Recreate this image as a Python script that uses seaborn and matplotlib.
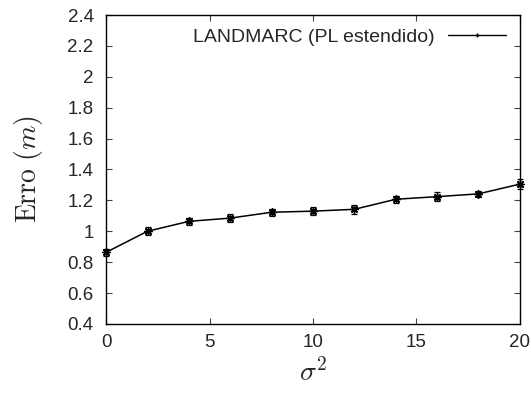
import numpy as np
import pandas as pd
import matplotlib
matplotlib.use("Agg")
import matplotlib.pyplot as plt
from matplotlib.lines import Line2D
import seaborn as sns

# data
sigma2 = [0, 2, 4, 6, 8, 10, 12, 14, 16, 18, 20]
erro = [0.864, 1.000, 1.064, 1.085, 1.123, 1.130, 1.142, 1.207, 1.224, 1.242, 1.305]
erro_ci = [0.022, 0.025, 0.022, 0.025, 0.022, 0.025, 0.028, 0.022, 0.028, 0.018, 0.030]
serie = "LANDMARC (PL estendido)"

df = pd.DataFrame({"sigma2": sigma2, "erro": erro, "ci": erro_ci})

sns.set_style("ticks")
plt.rcParams["font.family"] = ["Liberation Sans", "DejaVu Sans"]
plt.rcParams["mathtext.fontset"] = "cm"

fig = plt.figure(figsize=(5.31, 3.95), dpi=100)
ax = fig.add_axes([0.2, 0.18, 0.779, 0.782])

ax.errorbar(df["sigma2"], df["erro"], yerr=df["ci"], fmt="none",
            ecolor="black", elinewidth=0.9, capsize=2, capthick=0.9,
            clip_on=False)
sns.lineplot(data=df, x="sigma2", y="erro", ax=ax, color="black",
             linewidth=1.1, marker=(8, 2, 0), markersize=6,
             markeredgewidth=1.0, markeredgecolor="black",
             legend=False, clip_on=False)

ax.set_xlim(0, 20)
ax.set_ylim(0.4, 2.4)
ax.set_xticks([0, 5, 10, 15, 20])
yt = np.arange(0.4, 2.41, 0.2)
ax.set_yticks(yt)
ax.set_yticklabels(["%g" % round(v, 1) for v in yt])

ax.tick_params(direction="in", length=4, width=0.8, top=True, right=True,
               labelsize=13.5, color="#444444")
ax.tick_params(axis="y", pad=9)
ax.tick_params(axis="x", pad=7)
for s in ax.spines.values():
    s.set_linewidth(1.0)
    s.set_color("black")

ax.set_xlabel(r"$\sigma^2$", fontsize=20, labelpad=6)
ax.set_ylabel(r"$\mathrm{Erro}\ (m)$", fontsize=20, labelpad=16)

h = Line2D([], [], color="black", linewidth=1.0, marker="+", markersize=3)
ax.legend([h], [serie], loc="upper right", frameon=False, fontsize=14,
          markerfirst=False, handlelength=3.0, borderaxespad=0.3,
          handletextpad=0.7, borderpad=0.4)
ax.get_legend()._legend_box.align = "right"

fig.savefig("out.png", dpi=100)
